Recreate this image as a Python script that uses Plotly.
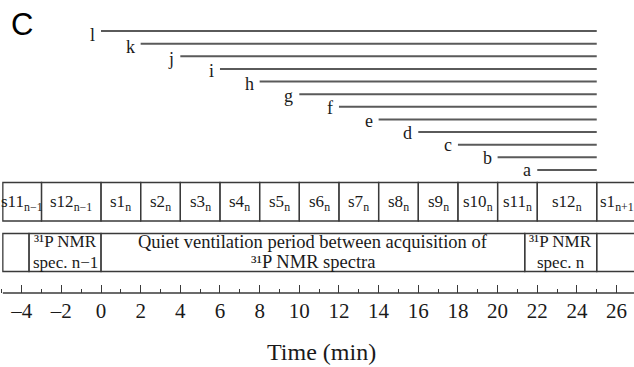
import plotly.graph_objects as go

# ---------------- data ----------------
line_labels = ["a", "b", "c", "d", "e", "f", "g", "h", "i", "j", "k", "l"]
line_starts = [22, 20, 18, 16, 14, 12, 10, 8, 6, 4, 2, 0]
line_end = 25

seg_labels = ["s11<sub>n−1</sub>", "s12<sub>n−1</sub>", "s1<sub>n</sub>", "s2<sub>n</sub>",
              "s3<sub>n</sub>", "s4<sub>n</sub>", "s5<sub>n</sub>", "s6<sub>n</sub>",
              "s7<sub>n</sub>", "s8<sub>n</sub>", "s9<sub>n</sub>", "s10<sub>n</sub>",
              "s11<sub>n</sub>", "s12<sub>n</sub>", "s1<sub>n+1</sub>"]
seg_starts = [-5, -3, 0, 2, 4, 6, 8, 10, 12, 14, 16, 18, 20, 22, 25]
seg_ends = [-3, 0, 2, 4, 6, 8, 10, 12, 14, 16, 18, 20, 22, 25, 27]

period_lines_1 = ["", "³¹P NMR", "Quiet ventilation period between acquisition of",
                  "³¹P NMR", ""]
period_lines_2 = ["", "spec. n−1", "³¹P NMR spectra", "spec. n", ""]
period_starts = [-5, -3.63, 0, 21.37, 25]
period_ends = [-3.63, 0, 21.37, 25, 27]

tick_vals = list(range(-4, 27, 2))
x_title = "Time (min)"
panel_label = "C"

# ---------------- layout constants ----------------
W, H = 634, 367
X0_PX, PX_PER_MIN = 101.0, 19.83
x_range = [-X0_PX / PX_PER_MIN, (W - X0_PX) / PX_PER_MIN]
LEFT_EDGE = -4.95

SERIF = "Liberation Serif, Times New Roman, serif"
TXT = "#1a1a1a"
BORDER = "#3a3a3a"
LINECOL = "#5a5a5a"

line_y0, line_dy = 170.0, 12.63
label_y0, label_dy = 169.8, 12.3
row1 = (182.5, 221.0)
row2 = (233.5, 271.5)
axis_y = 293.0

fig = go.Figure()
annotations = []
shapes = []

# staggered lines a..l
for i, (lab, xs) in enumerate(zip(line_labels, line_starts)):
    y = line_y0 - i * line_dy
    fig.add_trace(go.Scatter(x=[xs, line_end], y=[y, y], mode="lines",
                             line=dict(color=LINECOL, width=2), hoverinfo="skip",
                             showlegend=False))
    annotations.append(dict(x=xs, y=label_y0 - i * label_dy, xref="x", yref="y", text=lab,
                            showarrow=False, xanchor="right", yanchor="middle",
                            xshift=-4, font=dict(family=SERIF, size=18, color=TXT)))

# row 1 segments
for lab, a, b in zip(seg_labels, seg_starts, seg_ends):
    shapes.append(dict(type="rect", xref="x", yref="y", x0=max(a, LEFT_EDGE), x1=b,
                       y0=row1[0], y1=row1[1], line=dict(color=BORDER, width=1.3)))
    annotations.append(dict(x=(a + b) / 2, y=(row1[0] + row1[1]) / 2 + 1, xref="x", yref="y",
                            text=lab, showarrow=False, xanchor="center", yanchor="middle",
                            font=dict(family=SERIF, size=17, color=TXT)))

# row 2 periods
for l1, l2, a, b in zip(period_lines_1, period_lines_2, period_starts, period_ends):
    shapes.append(dict(type="rect", xref="x", yref="y", x0=max(a, LEFT_EDGE), x1=b,
                       y0=row2[0], y1=row2[1], line=dict(color=BORDER, width=1.3)))
    fsize = 18.5 if (b - a) > 10 else 17
    for txt, yy in ((l1, row2[0] + 8.0), (l2, row2[0] + 28.5)):
        if txt:
            annotations.append(dict(x=(a + b) / 2, y=yy, xref="x", yref="y",
                                    text=txt, showarrow=False, xanchor="center", yanchor="middle",
                                    borderpad=0,
                                    font=dict(family=SERIF, size=fsize, color=TXT)))

# axis line
shapes.append(dict(type="line", xref="x", yref="y", x0=LEFT_EDGE, x1=x_range[1] + 1,
                   y0=axis_y, y1=axis_y, line=dict(color=BORDER, width=1.3)))

annotations.append(dict(x=321 / W, y=352, xref="paper", yref="y", text=x_title,
                        showarrow=False, xanchor="center", yanchor="middle",
                        font=dict(family=SERIF, size=24, color=TXT)))
annotations.append(dict(x=22 / W, y=24, xref="paper", yref="y", text=panel_label,
                        showarrow=False, xanchor="center", yanchor="middle",
                        font=dict(family="Liberation Sans, Arial, sans-serif", size=31, color="#000")))

fig.update_layout(
    width=W, height=H, margin=dict(l=0, r=0, t=0, b=0),
    paper_bgcolor="white", plot_bgcolor="white",
    showlegend=False,
    shapes=shapes, annotations=annotations,
    xaxis=dict(range=x_range, anchor="free", position=1 - axis_y / H,
               showgrid=False, zeroline=False, showline=False,
               tickmode="array", tickvals=tick_vals,
               ticktext=[("–" + str(abs(v))) if v < 0 else str(v) for v in tick_vals],
               ticks="inside", ticklen=8, tickwidth=1.3, tickcolor=BORDER,
               minor=dict(ticks="inside", ticklen=4, tickwidth=1.3, tickcolor=BORDER, dtick=1, tick0=0,
                          showgrid=False),
               ticklabelstandoff=3,
               tickfont=dict(family=SERIF, size=21, color=TXT), fixedrange=True),
    yaxis=dict(range=[H, 0], visible=False, fixedrange=True, domain=[0, 1]),
)

fig.write_html("out.html")
